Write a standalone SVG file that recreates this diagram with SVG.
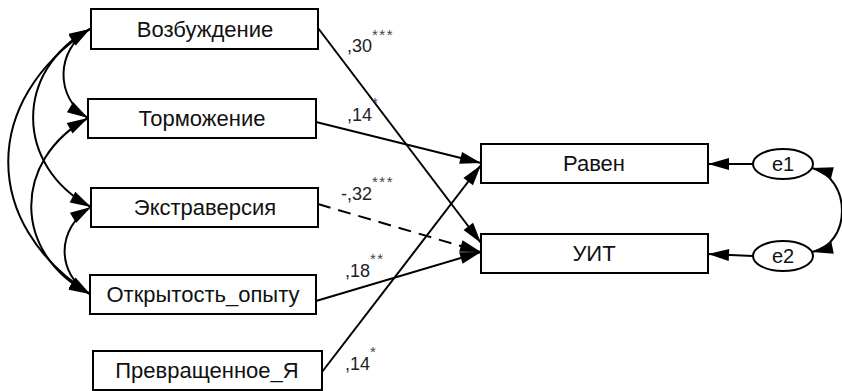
<svg xmlns="http://www.w3.org/2000/svg" width="842" height="391" viewBox="0 0 842 391">
  <defs>
    <marker id="head" markerUnits="userSpaceOnUse" markerWidth="24" markerHeight="14" refX="21" refY="6" orient="auto-start-reverse" overflow="visible">
      <path d="M0,0 L21,6 L0,12 z" fill="#000"/>
    </marker>
  </defs>
  <style>
    .box { fill: #fff; stroke: #000; stroke-width: 2; }
    .lbl { font-family: "Liberation Sans", Arial, sans-serif; font-size: 22px; fill: #111; text-anchor: middle; }
    .elbl { font-family: "Liberation Sans", Arial, sans-serif; font-size: 20px; fill: #111; text-anchor: middle; }
    .coef { font-family: "Liberation Sans", Arial, sans-serif; font-size: 18px; fill: #222; }
    .star { font-family: "Liberation Sans", Arial, sans-serif; font-size: 15px; fill: #444; letter-spacing: 1.5px; }
    .path { fill: none; stroke: #000; stroke-width: 2; marker-end: url(#head); }
    .cov { fill: none; stroke: #000; stroke-width: 2; marker-start: url(#head); marker-end: url(#head); }
    .dash { stroke-dasharray: 13 8; }
  </style>

  <!-- connectors -->
  <g id="connectors">
    <!-- covariances among exogenous variables -->
    <path class="cov" d="M90,29 C55,50 55,98 88,118"/>
    <path class="cov" d="M91,207 C56,228 56,274 90,294"/>
    <path class="cov" d="M90,29 C14,70 14,166 91,207"/>
    <path class="cov" d="M88,118 C12,160 12,254 90,294"/>
    <path class="cov" d="M90,29 C-19,100 -19,224 90,294"/>
    <!-- regression paths -->
    <path class="path" d="M318,28 L481,243"/>
    <path class="path" d="M316,122 L481,163"/>
    <path class="path dash" d="M318,204 L481,252"/>
    <path class="path" d="M316,301 L481,252"/>
    <path class="path" d="M322,372 L481,165"/>
    <!-- residuals -->
    <path class="path" d="M753,164 L708,164"/>
    <path class="path" d="M753,256 L708,254"/>
    <path class="cov" d="M812,168 C852,178 852,244 812,252"/>
  </g>

  <!-- coefficients -->
  <g id="coefficients">
    <text class="coef" x="347" y="52">,30</text><text class="star" x="372" y="40">***</text>
    <text class="coef" x="347" y="121">,14</text><text class="star" x="372" y="108">*</text>
    <text class="coef" x="341" y="200">-,32</text><text class="star" x="372" y="187">***</text>
    <text class="coef" x="345" y="277">,18</text><text class="star" x="370" y="264">**</text>
    <text class="coef" x="345" y="370">,14</text><text class="star" x="370" y="357">*</text>
  </g>

  <g id="vozbuzhdenie"><rect class="box" x="91" y="9" width="227" height="40"/><text class="lbl" x="205" y="37">Возбуждение</text></g>
  <g id="tormozhenie"><rect class="box" x="88" y="99" width="228" height="39"/><text class="lbl" x="202" y="126">Торможение</text></g>
  <g id="ekstraversiya"><rect class="box" x="91" y="188" width="227" height="39"/><text class="lbl" x="205" y="215">Экстраверсия</text></g>
  <g id="otkrytost"><rect class="box" x="90" y="275" width="226" height="39"/><text class="lbl" x="203" y="302">Открытость_опыту</text></g>
  <g id="prevrashchennoe"><rect class="box" x="93" y="351" width="229" height="39"/><text class="lbl" x="207" y="378">Превращенное_Я</text></g>
  <g id="raven"><rect class="box" x="481" y="144" width="227" height="39"/><text class="lbl" x="594" y="171">Равен</text></g>
  <g id="uit"><rect class="box" x="481" y="234" width="227" height="39"/><text class="lbl" x="594" y="261">УИТ</text></g>
  <g id="e1"><ellipse class="box" cx="783" cy="164" rx="30" ry="15"/><text class="elbl" x="783" y="171">e1</text></g>
  <g id="e2"><ellipse class="box" cx="783" cy="256" rx="30" ry="15"/><text class="elbl" x="783" y="263">e2</text></g>
</svg>
